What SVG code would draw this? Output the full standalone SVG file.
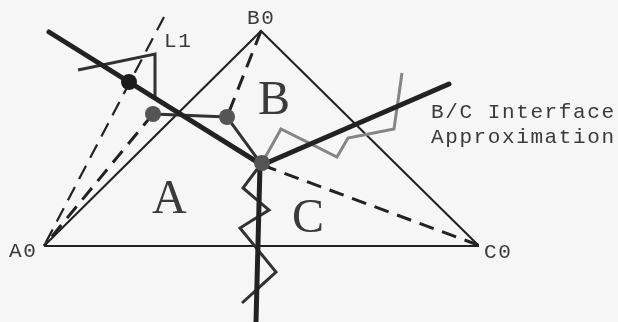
<svg xmlns="http://www.w3.org/2000/svg" width="618" height="322" viewBox="0 0 618 322">
  <defs>
    <filter id="soft" x="0" y="0" width="100%" height="100%"><feGaussianBlur stdDeviation="0.5"/></filter>
  </defs>
  <style>
    .label { fill: #3a3a3a; }
    .small { font-family: "Liberation Mono", "Courier New", monospace; font-size: 21px; letter-spacing: 1.6px; }
    .big { font-family: "Liberation Serif", "Times New Roman", serif; font-size: 48px; }
    .thin { fill: none; stroke: #222; stroke-width: 2; }
    .dash { fill: none; stroke: #222; stroke-width: 3; stroke-dasharray: 15 9; }
    .dash2 { fill: none; stroke: #222; stroke-width: 2.2; stroke-dasharray: 15 9; }
    .thick { fill: none; stroke: #222; stroke-width: 5; stroke-linecap: round; }
    .mid { fill: none; stroke: #333; stroke-width: 3; }
    .gray { fill: none; stroke: #858585; stroke-width: 3; }
    .dot { fill: #555; }
  </style>
  <rect width="618" height="322" fill="#f6f6f6"/>
  <g filter="url(#soft)">
    <g id="connectors">
      <path class="thin" d="M44 246 L261 31 L478 245 L478 246 L44 246"/>
      <path class="dash2" d="M164 17 L44 246"/>
      <path class="dash" d="M153 114 L44 246"/>
      <path class="dash" d="M261 31 L227 117"/>
      <path class="dash" d="M262 165 L478 245"/>
      <path class="mid" d="M78 70 L155 54 L155 97"/>
      <path class="mid" d="M153 114 L227 117 L262 165"/>
      <path class="mid" d="M258 168 L243 188 L269 210 L240 228 L276 272 L242 303"/>
      <path class="gray" d="M262 163 L281 129 L337 157 L348 138 L394 129 L402 73"/>
      <path class="thick" d="M49 32 L262 165"/>
      <path class="thick" d="M262 165 L449 84"/>
      <path class="thick" d="M260 165 L256 322"/>
    </g>
    <g id="P0"><circle cx="129" cy="82" r="8" fill="#1c1c1c"/></g>
    <g id="P1"><circle class="dot" cx="153" cy="114" r="8"/></g>
    <g id="P2"><circle class="dot" cx="227" cy="117" r="8"/></g>
    <g id="P3"><circle class="dot" cx="262" cy="163" r="8"/></g>
    <g id="labels">
      <text class="label small" x="164" y="47">L1</text>
      <text class="label small" x="247" y="24">B0</text>
      <text class="label small" x="9" y="257">A0</text>
      <text class="label small" x="484" y="258">C0</text>
      <text class="label small" x="431" y="118">B/C Interface</text>
      <text class="label small" x="431" y="143">Approximation</text>
      <text class="label big" x="152" y="213">A</text>
      <text class="label big" x="258" y="114">B</text>
      <text class="label big" x="292" y="232">C</text>
    </g>
  </g>
</svg>
